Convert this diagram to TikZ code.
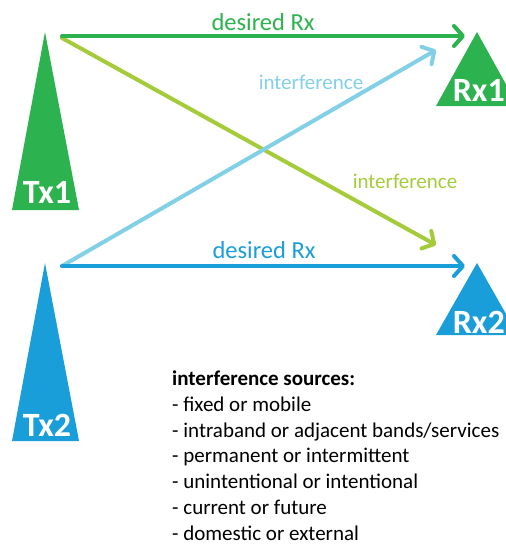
\documentclass[tikz,border=0pt]{standalone}
\usepackage{fontspec}
\setmainfont{Carlito}
\usetikzlibrary{arrows.meta}
\definecolor{txgreen}{RGB}{44,178,78}
\definecolor{ifgreen}{RGB}{164,204,58}
\definecolor{ifblue}{RGB}{130,208,230}
\definecolor{txblue}{RGB}{26,158,218}
\tikzset{
  link/.style={line width=4pt, line cap=round, -{Straight Barb[length=9pt,width=20pt,line width=4pt,round]}},
  mast/.style={fill=#1, draw=none},
  tag/.style={text=white, font=\bfseries\fontsize{34}{34}\selectfont, inner sep=0pt, anchor=base},
  lbl/.style={text=#1, font=\fontsize{21}{21}\selectfont, inner sep=0pt, anchor=base},
  want/.style={text=#1, font=\fontsize{24.5}{24.5}\selectfont, inner sep=0pt, anchor=base}
}
\begin{document}
\begin{tikzpicture}[x=1pt,y=-1pt]
\useasboundingbox (0,0) rectangle (506,544);
\clip (0,0) rectangle (506,544);

% antenna masts and receivers
\fill[mast=txgreen] (45,32) -- (79,210) -- (12,210) -- cycle;
\fill[mast=txblue]  (45,263) -- (79,441) -- (12,441) -- cycle;
\fill[mast=txgreen] (477,32) -- (518,106) -- (436,106) -- cycle;
\fill[mast=txblue]  (477,263) -- (518,335) -- (436,335) -- cycle;

\node[tag] (tx1) at (47,203) {Tx1};
\node[tag] (tx2) at (47,436) {Tx2};
\node[tag, anchor=base east] (rx1) at (505,101) {Rx1};
\node[tag, anchor=base east] (rx2) at (505,333) {Rx2};

% signal ports
\coordinate (tx1a) at (62,36);
\coordinate (tx1b) at (62,38);
\coordinate (tx2a) at (62,266);
\coordinate (tx2b) at (62,266);
\coordinate (rx1a) at (465,36);
\coordinate (rx1b) at (436,50);
\coordinate (rx2a) at (465,266);
\coordinate (rx2b) at (436,245);

% links
\draw[link, ifgreen] (tx1b) -- (rx2b);
\draw[link, ifblue]  (tx2b) -- (rx1b);
\draw[link, txgreen] (tx1a) -- (rx1a);
\draw[link, txblue]  (tx2a) -- (rx2a);

% link labels
\node[want=txgreen] (d1) at (263,30) {desired Rx};
\node[want=txblue]  (d2) at (264,258) {desired Rx};
\node[lbl=ifblue]  (i1) at (311,89) {interference};
\node[lbl=ifgreen] (i2) at (405,188) {interference};

% list of sources (anchored on the baseline of its last line)
\node[anchor=base west, align=left, inner sep=0pt,
      font=\fontsize{21}{25.7}\selectfont] (src) at (172,540)
  {\textbf{interference sources:}\\
   - fixed or mobile\\
   - intraband or adjacent bands/services\\
   - permanent or intermittent\\
   - unintentional or intentional\\
   - current or future\\
   - domestic or external};
\end{tikzpicture}
\end{document}
